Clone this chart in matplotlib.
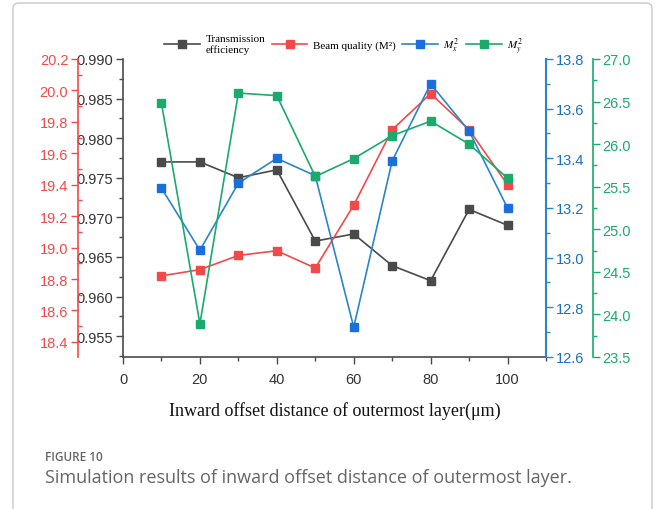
import matplotlib
matplotlib.use("Agg")
import matplotlib.pyplot as plt
from matplotlib.lines import Line2D
from matplotlib.patches import FancyBboxPatch
from matplotlib.ticker import MultipleLocator, FormatStrFormatter

plt.rcParams["mathtext.fontset"] = "stix"

x = [10, 20, 30, 40, 50, 60, 70, 80, 90, 100]
transmission = [0.9770, 0.9770, 0.9750, 0.9760, 0.9670, 0.9679, 0.9639, 0.9620, 0.9710, 0.9690]
beam_quality = [18.82, 18.86, 18.95, 18.98, 18.87, 19.27, 19.75, 19.98, 19.75, 19.40]
mx2 = [13.28, 13.03, 13.30, 13.40, 13.33, 12.72, 13.39, 13.70, 13.51, 13.20]
my2 = [26.48, 23.89, 26.60, 26.57, 25.62, 25.83, 26.10, 26.27, 26.00, 25.60]

xticks = [0, 20, 40, 60, 80, 100]
labels = ["Transmission\nefficiency", "Beam quality (M²)", "$M_x^2$", "$M_y^2$"]

C_BLACK = "#4a4a4a"
C_RED = "#f24a4a"
C_BLUE_LINE = "#2a86c8"
C_BLUE_MK = "#1a6fdc"
C_BLUE_TXT = "#1a6fc4"
C_GREEN = "#1aaa6c"

tickfont = "Liberation Sans"
fs = 10.5

fig = plt.figure(figsize=(6.56, 5.10), dpi=100)
# outer frame (bottom cut off)
frame = FancyBboxPatch((13/656, -0.2), (652-13)/656, (510-4)/510 + 0.2,
                       boxstyle="round,pad=0,rounding_size=0.01",
                       transform=fig.transFigure, fill=False, ec="#c8c8c8", lw=1.0)
fig.patches.append(frame)

ax = fig.add_axes([123/656, 1-358/510, (546-123)/656, (358-60)/510])
ax_r = ax.twinx()
ax_b = ax.twinx()
ax_g = ax.twinx()

ms = 6
lw = 1.2
ax.plot(x, transmission, color=C_BLACK, marker="s", ms=ms, lw=lw, mec=C_BLACK, mfc=C_BLACK)
ax_r.plot(x, beam_quality, color=C_RED, marker="s", ms=ms, lw=lw, mec=C_RED, mfc=C_RED)
ax_b.plot(x, mx2, color=C_BLUE_LINE, marker="s", ms=ms, lw=lw, mec=C_BLUE_MK, mfc=C_BLUE_MK)
ax_g.plot(x, my2, color=C_GREEN, marker="s", ms=ms, lw=lw, mec=C_GREEN, mfc=C_GREEN)

# main axis
ax.set_xlim(0, 110)
ax.set_ylim(0.95236, 0.990)
ax.set_xticks(xticks)
ax.xaxis.set_minor_locator(MultipleLocator(10))
ax.yaxis.set_major_locator(MultipleLocator(0.005))
ax.yaxis.set_minor_locator(MultipleLocator(0.0025))
ax.yaxis.set_major_formatter(FormatStrFormatter("%.3f"))
for s in ["top", "right"]:
    ax.spines[s].set_visible(False)
for s in ["left", "bottom"]:
    ax.spines[s].set_color(C_BLACK)
    ax.spines[s].set_linewidth(1.2)
ax.tick_params(axis="both", which="major", direction="out", length=5, width=1, color=C_BLACK,
               labelcolor="#333333", labelsize=fs, pad=2)
ax.tick_params(axis="both", which="minor", direction="out", length=3, width=1, color=C_BLACK)
ax.tick_params(axis="x", which="major", pad=6)
for lab in ax.get_xticklabels() + ax.get_yticklabels():
    lab.set_fontfamily(tickfont)
ax.set_xlabel("Inward offset distance of outermost layer(μm)", fontfamily="Liberation Serif",
              fontsize=13, labelpad=11, color="#111111")

# red axis (left, outward)
ax_r.set_ylim(18.304, 20.2)
ax_r.yaxis.set_ticks_position("left")
ax_r.yaxis.set_label_position("left")
for s in ["top", "right", "bottom"]:
    ax_r.spines[s].set_visible(False)
ax_r.spines["left"].set_visible(True)
ax_r.spines["left"].set_position(("axes", -45/423))
ax_r.spines["left"].set_color(C_RED)
ax_r.spines["left"].set_linewidth(1.2)
ax_r.yaxis.set_major_locator(MultipleLocator(0.2))
ax_r.yaxis.set_minor_locator(MultipleLocator(0.1))
ax_r.yaxis.set_major_formatter(FormatStrFormatter("%.1f"))
ax_r.tick_params(axis="y", which="major", direction="out", length=5, width=1, color=C_RED,
                 labelcolor=C_RED, labelsize=fs, pad=2)
ax_r.tick_params(axis="y", which="minor", direction="in", length=3, width=1, color=C_RED)
for lab in ax_r.get_yticklabels():
    lab.set_fontfamily(tickfont)

# blue axis (right)
ax_b.set_ylim(12.6, 13.8)
for s in ["top", "left", "bottom"]:
    ax_b.spines[s].set_visible(False)
ax_b.spines["right"].set_color(C_BLUE_LINE)
ax_b.spines["right"].set_linewidth(1.5)
ax_b.yaxis.set_major_locator(MultipleLocator(0.2))
ax_b.yaxis.set_minor_locator(MultipleLocator(0.1))
ax_b.yaxis.set_major_formatter(FormatStrFormatter("%.1f"))
ax_b.tick_params(axis="y", which="major", direction="out", length=5, width=1, color=C_BLUE_LINE,
                 labelcolor=C_BLUE_TXT, labelsize=fs, pad=2)
ax_b.tick_params(axis="y", which="minor", direction="out", length=3, width=1, color=C_BLUE_LINE)
for lab in ax_b.get_yticklabels():
    lab.set_fontfamily(tickfont)

# green axis (far right)
ax_g.set_ylim(23.5, 27.0)
for s in ["top", "left", "bottom"]:
    ax_g.spines[s].set_visible(False)
ax_g.spines["right"].set_position(("axes", (593-123)/423))
ax_g.spines["right"].set_color(C_GREEN)
ax_g.spines["right"].set_linewidth(1.2)
ax_g.yaxis.set_major_locator(MultipleLocator(0.5))
ax_g.yaxis.set_minor_locator(MultipleLocator(0.25))
ax_g.yaxis.set_major_formatter(FormatStrFormatter("%.1f"))
ax_g.tick_params(axis="y", which="major", direction="out", length=5, width=1, color=C_GREEN,
                 labelcolor=C_GREEN, labelsize=fs, pad=2)
ax_g.tick_params(axis="y", which="minor", direction="out", length=3, width=1, color=C_GREEN)
for lab in ax_g.get_yticklabels():
    lab.set_fontfamily(tickfont)

# legend
handles = [
    Line2D([], [], color=C_BLACK, marker="s", ms=5.5, lw=1.2),
    Line2D([], [], color=C_RED, marker="s", ms=5.5, lw=1.2),
    Line2D([], [], color=C_BLUE_LINE, marker="s", ms=5.5, lw=1.2, mfc=C_BLUE_MK, mec=C_BLUE_MK),
    Line2D([], [], color=C_GREEN, marker="s", ms=5.5, lw=1.2),
]
fig.legend(handles, labels, loc="center", bbox_to_anchor=(344/656, 1-46/510), ncol=4,
           frameon=False, prop={"family": "Liberation Serif", "size": 8},
           handlelength=3.2, handletextpad=0.5, columnspacing=0.6)

# caption
fig.text(45/656, 1-458/510, "FIGURE 10", fontfamily="Open Sans", fontsize=8.5,
         color="#666666", va="center", ha="left", fontweight="semibold")
fig.text(45/656, 1-478/510, "Simulation results of inward offset distance of outermost layer.",
         fontfamily="Open Sans", fontsize=13, color="#666666", va="center", ha="left")

fig.savefig("out.png", dpi=100)
